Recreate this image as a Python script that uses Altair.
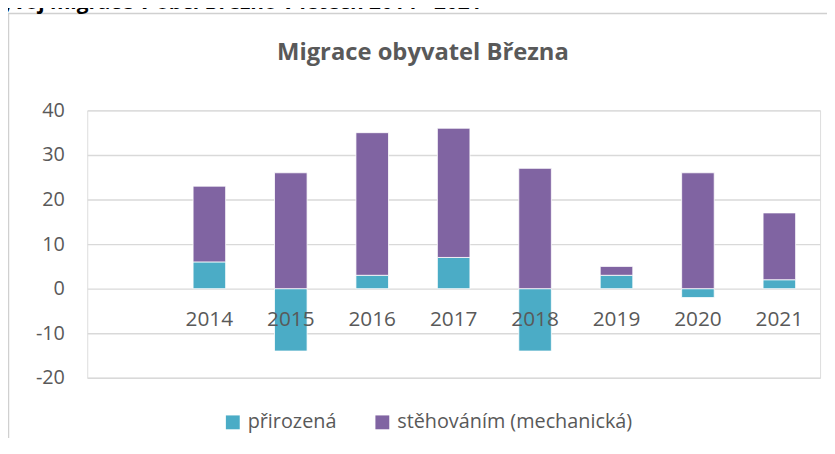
import altair as alt
import pandas as pd

# ---- data ----
years = ["2014", "2015", "2016", "2017", "2018", "2019", "2020", "2021"]
prirozena = [6, -14, 3, 7, -14, 3, -2, 2]
stehovanim = [17, 26, 32, 29, 27, 2, 26, 15]
series_names = ["přirozená", "stěhováním (mechanická)"]
series_colors = ["#4BACC6", "#8064A2"]
y_ticks = [-20, -10, 0, 10, 20, 30, 40]
x_domain = [" "] + years  # empty first category as in the source sheet
chart_title = "Migrace obyvatel Března"
heading = "Vývoj migrace v obci Březno v letech 2014 - 2021"

rows = []
for i, y in enumerate(years):
    rows.append({"rok": y, "řada": series_names[0], "hodnota": prirozena[i], "poradi": 0})
    rows.append({"rok": y, "řada": series_names[1], "hodnota": stehovanim[i], "poradi": 1})
df = pd.DataFrame(rows)

FONT = "Open Sans"
GREY = "#595959"
GRID = "#d9d9d9"

W, H = 740, 270
PAD = {"left": 80, "top": 101.3, "right": 7, "bottom": 58.7}

bars = alt.Chart(df).mark_bar(stroke="white", strokeWidth=0.8).encode(
    x=alt.X(
        "rok:N",
        scale=alt.Scale(domain=x_domain, paddingInner=0.6, paddingOuter=0.3),
        axis=alt.Axis(
            title=None, orient="bottom", offset=-90, domain=False, ticks=False,
            labelAngle=0, labelFont=FONT, labelFontSize=21, labelColor=GREY,
            labelBaseline="middle", labelPadding=31, grid=False, zindex=1,
        ),
    ),
    y=alt.Y(
        "hodnota:Q",
        stack="zero",
        scale=alt.Scale(domain=[-20, 40], nice=False),
        axis=alt.Axis(
            title=None, values=y_ticks, domain=False, ticks=False,
            labelExpr="'' + datum.value",
            labelFont=FONT, labelFontSize=20, labelColor=GREY, labelPadding=23,
            grid=True, gridColor=GRID, gridWidth=1.4, zindex=0,
        ),
    ),
    color=alt.Color(
        "řada:N",
        scale=alt.Scale(domain=series_names, range=series_colors),
        legend=alt.Legend(
            title=None, orient="none", legendX=137, legendY=305, direction="horizontal",
            symbolType="square", symbolSize=196, symbolStrokeWidth=0,
            labelFont=FONT, labelFontSize=20, labelColor=GREY,
            columnPadding=36, labelOffset=5, labelLimit=500,
        ),
    ),
    order=alt.Order("poradi:Q"),
)

frame = alt.Chart(alt.Data(values=[{"f": 1}])).mark_rect(
    fillOpacity=0, stroke="#d0d0d0", strokeWidth=1.5
).encode(
    x=alt.value(-79.5), x2=alt.value(900), y=alt.value(-97.8), y2=alt.value(600)
)

title_txt = alt.Chart(alt.Data(values=[{"t": chart_title}])).mark_text(
    font=FONT, fontSize=24, fontWeight="bold", color=GREY, align="center", baseline="alphabetic"
).encode(text="t:N", x=alt.value(339), y=alt.value(-51))

heading_txt = alt.Chart(alt.Data(values=[{"t": heading}])).mark_text(
    font=FONT, fontSize=21, fontWeight="bold", color="#000000", align="left", baseline="alphabetic"
).encode(text="t:N", x=alt.value(-100), y=alt.value(-102.3))

chart = alt.layer(frame, bars, title_txt, heading_txt).properties(
    width=W, height=H, padding=PAD,
    autosize=alt.AutoSizeParams(type="none"),
).configure_view(stroke=None).configure(background="white")

chart.save("out.html", embed_options={"renderer": "svg", "actions": False})
